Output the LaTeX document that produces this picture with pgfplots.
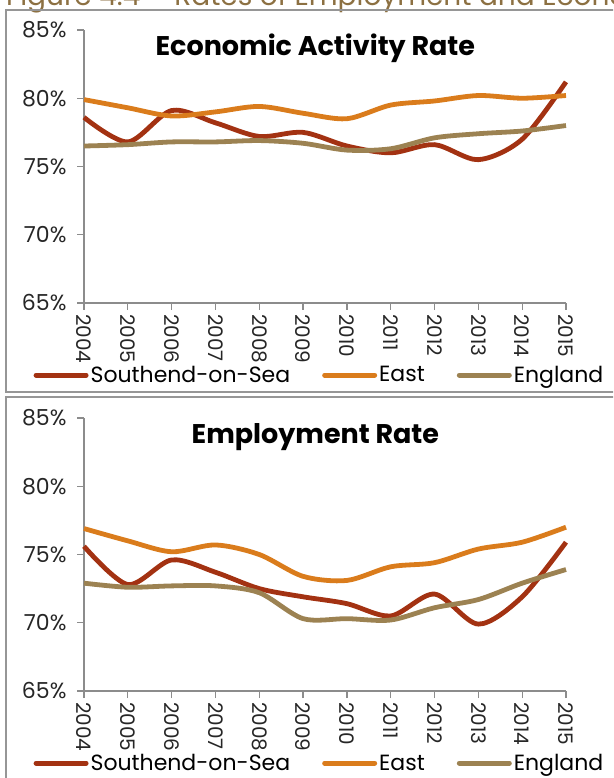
\documentclass[border=0pt]{standalone}
\usepackage{fontspec}
\setmainfont{Poppins}
\usepackage{pgfplots}
\pgfplotsset{compat=1.18}
\definecolor{sred}{RGB}{163,50,18}
\definecolor{seast}{RGB}{218,124,28}
\definecolor{seng}{RGB}{156,130,82}
\definecolor{axgray}{RGB}{140,140,140}
\definecolor{panelgray}{RGB}{150,150,150}
\definecolor{titlebrown}{RGB}{140,112,66}
\pgfplotsset{
  panel/.style={
    scale only axis, width=482pt, height=273pt,
    xmin=0, xmax=11, ymin=65, ymax=85,
    axis x line*=bottom, axis y line*=left,
    axis line style={axgray, line width=1.3pt, -},
    tick style={axgray, line width=1.3pt},
    major tick length=7pt, tick align=outside,
    xtick={0,1,2,3,4,5,6,7,8,9,10,11},
    xticklabels={2004,2005,2006,2007,2008,2009,2010,2011,2012,2013,2014,2015},
    xticklabel style={rotate=-90, anchor=west, font=\fontsize{20}{20}\selectfont, text=black!85, inner sep=4pt},
    ytick={65,70,75,80,85},
    yticklabel={\pgfmathprintnumber{\tick}\%},
    yticklabel style={font=\fontsize{22}{22}\selectfont, text=black!85, xshift=-7pt},
    /pgf/number format/assume math mode=true,
    every axis plot/.append style={line width=4.8pt, smooth, tension=0.5, no markers},
    legend columns=3,
    legend style={draw=none, fill=none, at={(rel axis cs:-0.105,-0.264)}, anchor=west,
      font=\fontsize{22}{22}\selectfont, /tikz/every even column/.append style={column sep=30pt},
      inner sep=0pt, cells={anchor=west}},
    legend image code/.code={\draw[#1, line cap=round, line width=5pt] (0pt,0pt) -- (50pt,0pt);},
    clip=false,
  }
}
\begin{document}
\begin{tikzpicture}[x=1pt,y=1pt]
\path[use as bounding box] (0,0) rectangle (613,778);
\clip (0,0) rectangle (613,778);
\node[anchor=base west, text=titlebrown, font=\fontsize{28}{28}\selectfont, inner sep=0pt] at (6,772) {Figure 4.4 – Rates of Employment and Economic Activity};
\draw[panelgray, line width=2.5pt] (6,386) rectangle (650,768);
\draw[panelgray, line width=2.5pt] (6,-30) rectangle (650,381);

\begin{axis}[panel, at={(84pt,475pt)}, anchor=south west]
\addplot[sred] coordinates {(0,78.6) (1,76.8) (2,79.1) (3,78.2) (4,77.2) (5,77.5) (6,76.5) (7,76.0) (8,76.6) (9,75.5) (10,77.0) (11,81.2)};
\addlegendentry{Southend-on-Sea}
\addplot[seast] coordinates {(0,79.9) (1,79.3) (2,78.7) (3,79.0) (4,79.4) (5,78.9) (6,78.5) (7,79.5) (8,79.8) (9,80.2) (10,80.0) (11,80.2)};
\addlegendentry{East}
\addplot[seng] coordinates {(0,76.5) (1,76.6) (2,76.8) (3,76.8) (4,76.9) (5,76.7) (6,76.2) (7,76.3) (8,77.1) (9,77.4) (10,77.6) (11,78.0)};
\addlegendentry{England}
\node[font=\fontsize{27}{27}\selectfont\bfseries] at (rel axis cs:0.48,0.934) {Economic Activity Rate};
\end{axis}

\begin{axis}[panel, at={(84pt,87pt)}, anchor=south west]
\addplot[sred] coordinates {(0,75.6) (1,72.8) (2,74.6) (3,73.7) (4,72.5) (5,71.9) (6,71.4) (7,70.5) (8,72.1) (9,69.9) (10,71.9) (11,75.9)};
\addlegendentry{Southend-on-Sea}
\addplot[seast] coordinates {(0,76.9) (1,76.0) (2,75.2) (3,75.7) (4,75.0) (5,73.4) (6,73.1) (7,74.1) (8,74.4) (9,75.4) (10,75.9) (11,77.0)};
\addlegendentry{East}
\addplot[seng] coordinates {(0,72.9) (1,72.6) (2,72.7) (3,72.7) (4,72.2) (5,70.3) (6,70.3) (7,70.2) (8,71.1) (9,71.7) (10,72.9) (11,73.9)};
\addlegendentry{England}
\node[font=\fontsize{27}{27}\selectfont\bfseries] at (rel axis cs:0.48,0.93) {Employment Rate};
\end{axis}
\end{tikzpicture}
\end{document}
